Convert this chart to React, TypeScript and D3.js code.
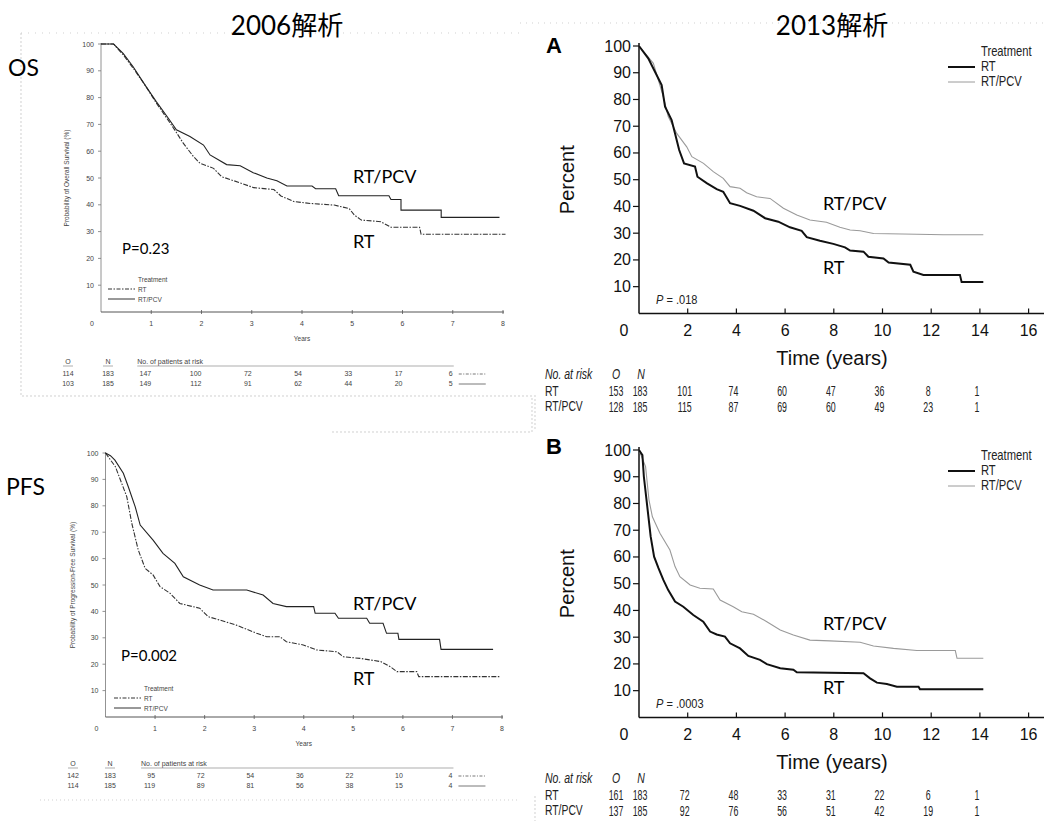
import React from 'react';
import * as d3 from 'd3';

// ---- data ----
const years2006 = [0, 1, 2, 3, 4, 5, 6, 7, 8];
const years2013 = [0, 2, 4, 6, 8, 10, 12, 14, 16];
const percentTicks = [10, 20, 30, 40, 50, 60, 70, 80, 90, 100];

const os2006Rt = [[0, 100], [0.25, 100], [0.44, 96], [0.64, 91], [0.9, 84], [1.1, 78], [1.34, 71.5], [1.5, 67], [1.64, 62.9], [1.84, 58], [1.97, 55.5], [2.24, 53.6], [2.4, 50.5], [2.64, 49], [3.04, 46.4], [3.44, 45.7], [3.58, 43.3], [3.84, 41.2], [4.17, 40.5], [4.64, 39.9], [4.94, 38.6], [5.04, 36.2], [5.18, 34.3], [5.57, 33.7], [5.77, 31.6], [6.34, 31.6], [6.37, 29], [8.05, 29]];
const os2006Pcv = [[0, 100], [0.25, 100], [0.44, 96.5], [0.64, 91.5], [0.9, 84], [1.1, 78.5], [1.34, 72.3], [1.5, 68], [1.77, 65.5], [2.04, 62.3], [2.17, 58.6], [2.5, 55], [2.77, 54.6], [3.03, 52], [3.3, 50], [3.5, 49], [3.7, 47], [4.2, 47], [4.27, 46], [4.67, 46], [4.73, 43.4], [5.73, 43.4], [5.77, 42], [5.97, 42], [5.97, 38], [6.77, 38], [6.77, 35.3], [7.93, 35.3]];
const pfs2006Rt = [[0, 100], [0.2, 94.8], [0.43, 83.4], [0.53, 73.4], [0.66, 63.3], [0.8, 56.3], [0.96, 53.8], [1.1, 49.4], [1.3, 46.9], [1.5, 43], [1.9, 41.2], [2.07, 38], [2.31, 36.7], [2.64, 34.8], [3.05, 31.7], [3.25, 30.4], [3.52, 30.4], [3.65, 28.5], [3.99, 27.3], [4.26, 25.4], [4.67, 24.7], [4.8, 22.8], [5.14, 22.2], [5.55, 21], [5.75, 19], [5.88, 17.2], [6.28, 17.2], [6.32, 15.3], [7.97, 15.3]];
const pfs2006Pcv = [[0, 100], [0.1, 99], [0.19, 97.3], [0.36, 92.3], [0.46, 87.2], [0.6, 79.6], [0.7, 72.7], [0.96, 67], [1.16, 62], [1.4, 58.2], [1.57, 53.1], [1.9, 50], [2.17, 48.1], [2.85, 48.1], [3.18, 46.2], [3.38, 43], [3.65, 41.8], [4.2, 41.8], [4.23, 39.3], [4.63, 39.3], [4.7, 37.4], [5.27, 37.4], [5.33, 35.5], [5.6, 35.5], [5.67, 31.7], [5.9, 31.7], [5.92, 29.4], [6.74, 29.4], [6.77, 25.6], [7.82, 25.6]];

const os2013Rt = [[0, 100], [0.38, 95.4], [0.93, 85.4], [1.07, 77.3], [1.34, 72.3], [1.48, 67.3], [1.65, 61.1], [1.85, 56.1], [2.3, 54.9], [2.4, 51.1], [2.78, 48.7], [3.19, 46.5], [3.46, 45.5], [3.74, 41.2], [4.15, 40.2], [4.7, 38.4], [5.18, 35.6], [5.72, 34.3], [6.2, 32.2], [6.68, 30.9], [6.89, 28.5], [7.43, 27.2], [7.98, 26], [8.46, 24.7], [8.67, 23.5], [9.22, 23.1], [9.42, 21.2], [10.04, 20.5], [10.25, 19], [11.14, 18.2], [11.27, 15.6], [11.68, 14.4], [13.18, 14.4], [13.25, 11.7], [14.14, 11.7]];
const os2013Pcv = [[0, 100], [0.59, 93.5], [1.0, 81], [1.2, 73.6], [1.55, 67.3], [1.96, 62.3], [2.17, 58.6], [2.65, 56.1], [3.05, 53], [3.46, 50.5], [3.74, 47.4], [4.15, 46.8], [4.42, 45.1], [4.83, 43.6], [5.38, 43], [5.93, 39.3], [6.48, 36.8], [7.02, 34.9], [7.7, 34.1], [8.25, 32.2], [8.67, 31.2], [9.08, 30.9], [9.63, 29.9], [11.41, 29.6], [12.5, 29.4], [14.14, 29.4]];
const pfs2013Rt = [[0, 100], [0.14, 98.1], [0.2, 90], [0.34, 78.8], [0.48, 67.6], [0.62, 60.1], [0.8, 55.8], [1.0, 51.4], [1.2, 47.6], [1.48, 43.3], [1.82, 41.4], [2.23, 38.3], [2.64, 35.8], [2.92, 32.1], [3.19, 31], [3.53, 30.2], [3.74, 27.7], [4.15, 25.8], [4.49, 23], [4.97, 21.5], [5.25, 19.9], [5.8, 18.4], [6.34, 17.8], [6.48, 16.9], [9.22, 16.5], [9.49, 14.6], [9.77, 13], [10.18, 12.5], [10.59, 11.5], [11.48, 11.5], [11.54, 10.5], [14.14, 10.5]];
const pfs2013Pcv = [[0, 100], [0.27, 93.8], [0.41, 81.3], [0.55, 75], [0.86, 68.9], [1.27, 62.6], [1.48, 56.4], [1.68, 52.6], [2.1, 49.5], [2.5, 48.3], [3.05, 48], [3.33, 43.9], [3.87, 41.4], [4.22, 39.5], [4.7, 38.6], [5.25, 35.8], [5.8, 32.7], [6.34, 30.8], [7.02, 28.9], [7.84, 28.6], [9.08, 28.1], [9.63, 26.7], [10.45, 25.8], [11.41, 25], [12.99, 25], [13.06, 22.1], [14.14, 22.1]];

// at-risk tables: [O, N, then counts]
const riskOs2006Rt = [114, 183, 147, 100, 72, 54, 33, 17, 6];
const riskOs2006Pcv = [103, 185, 149, 112, 91, 62, 44, 20, 5];
const riskPfs2006Rt = [142, 183, 95, 72, 54, 36, 22, 10, 4];
const riskPfs2006Pcv = [114, 185, 119, 89, 81, 56, 38, 15, 4];
const riskOs2013Rt = [153, 183, 101, 74, 60, 47, 36, 8, 1];
const riskOs2013Pcv = [128, 185, 115, 87, 69, 60, 49, 23, 1];
const riskPfs2013Rt = [161, 183, 72, 48, 33, 31, 22, 6, 1];
const riskPfs2013Pcv = [137, 185, 92, 76, 56, 51, 42, 19, 1];

const SMALL = "'Liberation Sans', Arial, sans-serif";
const BIG = "Lato, 'Noto Sans CJK JP', sans-serif";

// condensed text: squeeze horizontally since no narrow face is installed
function NText({ x, y, sx = 0.7, anchor = 'start', children, ...rest }: any) {
  return (
    <text transform={`translate(${x},${y}) scale(${sx},1)`} textAnchor={anchor} dominantBaseline="central" {...rest}>{children}</text>
  );
}

function Km2006(p: any) {
  const x = d3.scaleLinear().domain([0, 8]).range([p.left, p.right]);
  const y = d3.scaleLinear().domain([0, 100]).range([p.bottom, p.top]);
  const line = d3.line<number[]>().x(d => x(d[0])).y(d => y(d[1]));
  const ax = '#777';
  return (
    <g fontFamily={SMALL}>
      <text x={p.tagX} y={p.tagY} fontFamily={BIG} fontSize={23} dominantBaseline="central">{p.tag}</text>
      <line x1={x(0)} x2={x(0)} y1={y(0)} y2={y(100) - 1} stroke={ax} strokeWidth={0.8} />
      <line x1={x(0)} x2={x(8) + 1} y1={y(0)} y2={y(0)} stroke="#555" strokeWidth={1} />
      {percentTicks.map(v => (
        <g key={v}>
          <line x1={x(0) - 3} x2={x(0)} y1={y(v)} y2={y(v)} stroke={ax} strokeWidth={0.8} />
          <text x={x(0) - 7} y={y(v)} textAnchor="end" dominantBaseline="central" fontSize={7} fill="#444">{v}</text>
        </g>
      ))}
      {years2006.map(t => (
        <g key={t}>
          {t > 0 && <line x1={x(t)} x2={x(t)} y1={y(0) - 2} y2={y(0) + 2} stroke="#555" strokeWidth={0.8} />}
          <text x={t === 0 ? x(0) - 9 : x(t)} y={y(0) + 11} textAnchor="middle" dominantBaseline="central" fontSize={7} fill="#444">{t}</text>
        </g>
      ))}
      <text x={(x(0) + x(8)) / 2} y={y(0) + 26} textAnchor="middle" dominantBaseline="central" fontSize={6.5} fill="#444">Years</text>
      <text transform={`translate(${p.yLabelX},${(y(0) + y(100)) / 2}) rotate(-90)`} textAnchor="middle" dominantBaseline="central" fontSize={6.5} fill="#444">{p.yLabel}</text>

      <path d={line(p.rt) || ''} fill="none" stroke="#333" strokeWidth={1.1} strokeDasharray="5,1.5,1.5,1.5" />
      <path d={line(p.pcv) || ''} fill="none" stroke="#222" strokeWidth={1.1} />

      <text x={p.pX} y={p.pY} fontFamily={BIG} fontSize={15} dominantBaseline="central">{p.pText}</text>
      <text x={353} y={p.pcvLabelY} fontFamily={BIG} fontSize={18} dominantBaseline="central">RT/PCV</text>
      <text x={353} y={p.rtLabelY} fontFamily={BIG} fontSize={18} dominantBaseline="central">RT</text>

      <text x={p.legX} y={p.legY} fontSize={6.5} fill="#444" dominantBaseline="central">Treatment</text>
      <line x1={p.legX - 30} x2={p.legX - 3} y1={p.legY + 10} y2={p.legY + 10} stroke="#333" strokeWidth={1} strokeDasharray="4,1.5,1.5,1.5" />
      <text x={p.legX} y={p.legY + 10} fontSize={6.5} fill="#444" dominantBaseline="central">RT</text>
      <line x1={p.legX - 30} x2={p.legX - 3} y1={p.legY + 20} y2={p.legY + 20} stroke="#333" strokeWidth={1} />
      <text x={p.legX} y={p.legY + 20} fontSize={6.5} fill="#444" dominantBaseline="central">RT/PCV</text>

      <g fontSize={7} fill="#444">
        <text x={p.oX} y={p.riskY} textAnchor="middle" dominantBaseline="central">O</text>
        <text x={p.nX} y={p.riskY} textAnchor="middle" dominantBaseline="central">N</text>
        <line x1={p.oX - 5} x2={p.oX + 5} y1={p.riskY + 5} y2={p.riskY + 5} stroke="#777" strokeWidth={0.6} />
        <line x1={p.nX - 5} x2={p.nX + 5} y1={p.riskY + 5} y2={p.riskY + 5} stroke="#777" strokeWidth={0.6} />
        <text x={x(1) - 14} y={p.riskY} dominantBaseline="central">No. of patients at risk</text>
        <line x1={x(1) - 14} x2={x(7) + 1} y1={p.riskY + 5} y2={p.riskY + 5} stroke="#777" strokeWidth={0.6} />
        {[p.riskRt, p.riskPcv].map((row: number[], r: number) => (
          <g key={r}>
            <text x={p.oX} y={p.riskY + 12 + r * 10} textAnchor="middle" dominantBaseline="central">{row[0]}</text>
            <text x={p.nX} y={p.riskY + 12 + r * 10} textAnchor="middle" dominantBaseline="central">{row[1]}</text>
            {row.slice(2).map((v, i) => (
              <text key={i} x={x(i + 1)} y={p.riskY + 12 + r * 10} textAnchor="end" dominantBaseline="central">{v}</text>
            ))}
            <line x1={x(7) + 6} x2={x(7) + 33} y1={p.riskY + 13 + r * 10} y2={p.riskY + 13 + r * 10} stroke="#555" strokeWidth={0.8} strokeDasharray={r === 0 ? '3,1.5,1,1.5' : undefined} />
          </g>
        ))}
      </g>
    </g>
  );
}

function Km2013(p: any) {
  const x = d3.scaleLinear().domain([0, 16]).range([639, 1028.6]);
  const y = d3.scaleLinear().domain([0, 100]).range([p.bottom, p.top]);
  const line = d3.line<number[]>().x(d => x(d[0])).y(d => y(d[1]));
  const legX = 981;
  return (
    <g fontFamily={SMALL}>
      <text x={546} y={p.tagY} fontFamily={SMALL} fontWeight="bold" fontSize={22} dominantBaseline="central">{p.tag}</text>
      <line x1={x(0)} x2={x(0)} y1={y(0)} y2={y(100) - 3} stroke="#111" strokeWidth={1.5} />
      <line x1={x(0)} x2={1044} y1={y(0)} y2={y(0)} stroke="#111" strokeWidth={1.5} />
      {percentTicks.map(v => (
        <g key={v}>
          <line x1={x(0) - 6} x2={x(0)} y1={y(v)} y2={y(v)} stroke="#111" strokeWidth={1.2} />
          <text x={x(0) - 8} y={y(v)} textAnchor="end" dominantBaseline="central" fontSize={16} fill="#111">{v}</text>
        </g>
      ))}
      {years2013.map(t => (
        <g key={t}>
          {t > 0 && <line x1={x(t)} x2={x(t)} y1={y(0) - 5} y2={y(0)} stroke="#111" strokeWidth={1.2} />}
          <text x={t === 0 ? 624 : x(t)} y={y(0) + 17} textAnchor="middle" dominantBaseline="central" fontSize={16} fill="#111">{t}</text>
        </g>
      ))}
      <text x={832} y={y(0) + 45} textAnchor="middle" dominantBaseline="central" fontSize={20} fill="#111">Time (years)</text>
      <text transform={`translate(567,${(y(0) + y(100)) / 2}) rotate(-90)`} textAnchor="middle" dominantBaseline="central" fontSize={20} fill="#111">Percent</text>

      <path d={line(p.pcv) || ''} fill="none" stroke="#9a9a9a" strokeWidth={1.1} />
      <path d={line(p.rt) || ''} fill="none" stroke="#111" strokeWidth={2} />

      <NText x={656} y={y(5)} sx={0.85} fontSize={13} fill="#222"><tspan fontStyle="italic">P</tspan> = {p.pText}</NText>
      <text x={823} y={p.pcvLabelY} fontFamily={BIG} fontSize={18} dominantBaseline="central">RT/PCV</text>
      <text x={823} y={p.rtLabelY} fontFamily={BIG} fontSize={18} dominantBaseline="central">RT</text>

      <g fontSize={14} fill="#222">
        <NText x={legX} y={p.legY} sx={0.8}>Treatment</NText>
        <line x1={legX - 33} x2={legX - 6} y1={p.legY + 15} y2={p.legY + 15} stroke="#111" strokeWidth={2} />
        <NText x={legX} y={p.legY + 15} sx={0.8}>RT</NText>
        <line x1={legX - 33} x2={legX - 6} y1={p.legY + 30} y2={p.legY + 30} stroke="#9a9a9a" strokeWidth={1} />
        <NText x={legX} y={p.legY + 30} sx={0.8}>RT/PCV</NText>
      </g>

      <g fontSize={14} fill="#222">
        <NText x={545} y={p.riskY} sx={0.75} fontStyle="italic">No. at risk</NText>
        <NText x={616} y={p.riskY} sx={0.75} anchor="middle" fontStyle="italic">O</NText>
        <NText x={641} y={p.riskY} sx={0.75} anchor="middle" fontStyle="italic">N</NText>
        {[p.riskRt, p.riskPcv].map((row: number[], r: number) => (
          <g key={r}>
            <NText x={545} y={p.riskY + 17 + r * 15.5} sx={0.74}>{r === 0 ? 'RT' : 'RT/PCV'}</NText>
            <NText x={616} y={p.riskY + 17 + r * 15.5} sx={0.63} anchor="middle">{row[0]}</NText>
            <NText x={640} y={p.riskY + 17 + r * 15.5} sx={0.63} anchor="middle">{row[1]}</NText>
            {row.slice(2).map((v, i) => (
              <NText key={i} x={x((i + 1) * 2) - 3} y={p.riskY + 17 + r * 15.5} sx={0.63} anchor="middle">{v}</NText>
            ))}
          </g>
        ))}
      </g>
    </g>
  );
}

export default function App() {
  return (
    <div style={{ position: 'absolute', left: 0, top: 0, background: '#fff' }}>
      <svg width={1044} height={821} style={{ display: 'block' }}>
        <rect width={1044} height={821} fill="#fff" />
        {/* faint scan frame lines */}
        <g stroke="#bbb" strokeWidth={0.7} strokeDasharray="2,2" fill="none">
          <path d="M21,33 L21,396 L532,396 L532,432 L330,432" />
          <path d="M21,33 L520,33" strokeDasharray="1,6" />
          <path d="M520,23 L1044,23" strokeDasharray="1,5" />
          <path d="M40,800 L520,800" strokeDasharray="1,3" />
          <path d="M535,395 L535,430" />
          <path d="M535,796 L535,821" />
        </g>

        <text x={287} y={25} fontFamily={BIG} fontSize={26} textAnchor="middle" dominantBaseline="central">2006解析</text>
        <text x={832} y={25} fontFamily={BIG} fontSize={26} textAnchor="middle" dominantBaseline="central">2013解析</text>

        <Km2006 tag="OS" tagX={8} tagY={67} left={101} right={503} bottom={312} top={44}
          yLabel="Probability of Overall Survival (%)" yLabelX={66}
          rt={os2006Rt} pcv={os2006Pcv} pText="P=0.23" pX={122} pY={248}
          pcvLabelY={176} rtLabelY={241} legX={138} legY={279}
          oX={68} nX={108} riskY={361} riskRt={riskOs2006Rt} riskPcv={riskOs2006Pcv} />

        <Km2006 tag="PFS" tagX={6} tagY={486} left={105.5} right={502} bottom={717} top={453}
          yLabel="Probability of Progression-Free Survival (%)" yLabelX={72}
          rt={pfs2006Rt} pcv={pfs2006Pcv} pText="P=0.002" pX={121} pY={655}
          pcvLabelY={603} rtLabelY={678} legX={144} legY={688}
          oX={73} nX={110} riskY={763} riskRt={riskPfs2006Rt} riskPcv={riskPfs2006Pcv} />

        <Km2013 tag="A" tagY={45} bottom={313.4} top={46}
          rt={os2013Rt} pcv={os2013Pcv} pText=".018"
          pcvLabelY={203} rtLabelY={267} legY={52}
          riskY={374} riskRt={riskOs2013Rt} riskPcv={riskOs2013Pcv} />

        <Km2013 tag="B" tagY={446} bottom={717.4} top={450}
          rt={pfs2013Rt} pcv={pfs2013Pcv} pText=".0003"
          pcvLabelY={623} rtLabelY={687} legY={456}
          riskY={778} riskRt={riskPfs2013Rt} riskPcv={riskPfs2013Pcv} />
      </svg>
    </div>
  );
}
